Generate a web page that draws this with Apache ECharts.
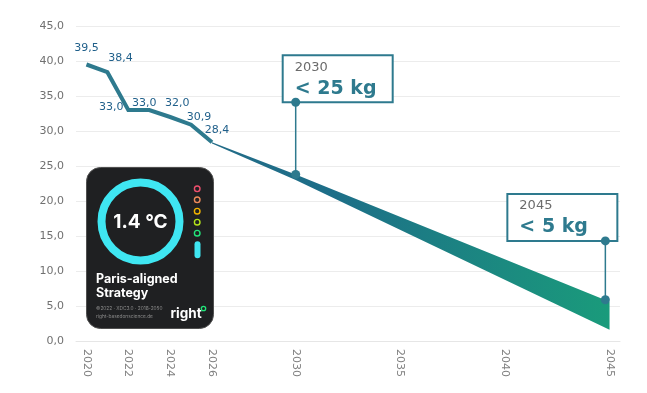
<!DOCTYPE html>
<html><head><meta charset="utf-8">
<script src="https://cdn.jsdelivr.net/npm/echarts@6/dist/echarts.min.js"></script>
<style>html,body{margin:0;padding:0;background:#fff}#c{width:647px;height:393px}</style>
</head><body><div id="c"></div>
<script>
// ---- data ----
var histYears = [2020, 2021, 2022, 2023, 2024, 2025, 2026];
var histValues = [39.5, 38.4, 33.0, 33.0, 32.0, 30.9, 28.4];
var bandYears = [2026, 2030, 2045];
var bandUpper = [28.4, 23.8, 5.6];
var bandLower = [28.2, 23.0, 1.6];
var calloutYears = [2030, 2044.8];
var calloutLow = [23.8, 5.9];
var calloutHigh = [34.1, 14.3];
var calloutYearText = ['2030', '2045'];
var calloutValueText = ['< 25 kg', '< 5 kg'];
var xTickLabels = [2020, 2022, 2024, 2026, 2030, 2035, 2040, 2045];

// ---- styles (kept separate) ----
var labelOffsets = [[0, -4], [13, -1.5], [-17, 9.5], [-5, 5.5], [7, -1.5], [8, 4.5], [5, 0.5]];
var calloutSide = ['right', 'left'];

var chart = echarts.init(document.getElementById('c'), null, {renderer: 'canvas'});

var histData = histYears.map(function (y, i) { return [y, histValues[i]]; });
var bandData = bandYears.map(function (y, i) { return [y, bandLower[i], bandUpper[i]]; });
var calloutData = calloutYears.map(function (y, i) { return [y, calloutLow[i], calloutHigh[i]]; });

var TEAL = '#2e7a8e';
var BF = 'Inter, "DejaVu Sans", sans-serif';

chart.setOption({
  animation: false,
  grid: {left: 76, right: 27, top: 26, bottom: 52},
  xAxis: {
    type: 'value', min: 2019.5, max: 2045.5,
    splitLine: {show: false},
    axisLine: {show: true, lineStyle: {color: '#e6e6e6'}},
    axisTick: {show: false},
    axisLabel: {
      customValues: xTickLabels, rotate: -90, margin: 8,
      color: '#808080', fontFamily: 'DejaVu Sans', fontSize: 11,
      formatter: function (v) { return String(v); }
    }
  },
  yAxis: {
    type: 'value', min: 0, max: 45, interval: 5,
    axisLine: {show: false}, axisTick: {show: false},
    splitLine: {lineStyle: {color: '#ececec'}},
    axisLabel: {
      margin: 12, color: '#707070', fontFamily: 'DejaVu Sans', fontSize: 11,
      formatter: function (v) { return v.toFixed(1).replace('.', ','); }
    }
  },
  series: [
    {
      type: 'custom', data: bandData, z: 2, silent: true,
      encode: {x: 0, y: [1, 2]},
      renderItem: function (params, api) {
        if (params.dataIndex !== 0) return null;
        var up = [], lo = [];
        for (var i = 0; i < bandData.length; i++) {
          up.push(api.coord([bandData[i][0], bandData[i][2]]));
          lo.push(api.coord([bandData[i][0], bandData[i][1]]));
        }
        var pts = up.concat(lo.reverse());
        var x0 = up[0][0], x1 = up[up.length - 1][0];
        return {
          type: 'polygon',
          shape: {points: pts},
          style: {
            fill: new echarts.graphic.LinearGradient(x0, 0, x1, 0, [
              {offset: 0, color: '#236c88'},
              {offset: 0.3, color: '#1d6e88'},
              {offset: 1, color: '#1a9b7b'}
            ], true)
          }
        };
      }
    },
    {
      type: 'line', data: histData, symbol: 'circle', symbolSize: 2, showSymbol: true, z: 3,
      itemStyle: {color: 'rgba(0,0,0,0)', borderWidth: 0},
      lineStyle: {color: TEAL, width: 4, join: 'miter', cap: 'butt'},
      label: {
        show: true, position: 'top', distance: 6,
        color: '#1f5f8a', fontFamily: 'DejaVu Sans', fontSize: 11,
        formatter: function (p) { return p.value[1].toFixed(1).replace('.', ','); }
      },
      labelLayout: function (p) {
        var o = labelOffsets[p.dataIndex] || [0, 0];
        return {dx: o[0], dy: o[1], hideOverlap: false};
      }
    },
    {
      type: 'custom', data: calloutData, z: 10,
      encode: {x: 0, y: [1, 2]},
      renderItem: function (params, api) {
        var i = params.dataIndex;
        var pLow = api.coord([api.value(0), api.value(1)]);
        var pHigh = api.coord([api.value(0), api.value(2)]);
        var w = 110, h = 47;
        var rx = calloutSide[i] === 'right' ? pHigh[0] - 13 : pHigh[0] - 98;
        var ry = pHigh[1] - h;
        return {
          type: 'group',
          children: [
            {type: 'line', shape: {x1: pHigh[0], y1: pHigh[1], x2: pLow[0], y2: pLow[1]},
             style: {stroke: TEAL, lineWidth: 1.5}},
            {type: 'rect', shape: {x: rx, y: ry, width: w, height: h},
             style: {fill: '#fff', stroke: TEAL, lineWidth: 2}},
            {type: 'text', x: rx + 12, y: ry + 12,
             style: {text: calloutYearText[i], fill: '#6b6b6b', font: '13px "DejaVu Sans"', verticalAlign: 'middle', align: 'left'}},
            {type: 'text', x: rx + 12, y: ry + 33.5,
             style: {text: calloutValueText[i], fill: TEAL, font: 'bold 19px "DejaVu Sans"', verticalAlign: 'middle', align: 'left'}},
            {type: 'circle', shape: {cx: pHigh[0], cy: pHigh[1], r: 4.5}, style: {fill: TEAL}},
            {type: 'circle', shape: {cx: pLow[0], cy: pLow[1], r: 4.5}, style: {fill: TEAL}}
          ]
        };
      }
    }
  ],
  graphic: [
    {
      type: 'group', left: 86, top: 167, z: 100,
      children: [
        {type: 'rect', z: 100, shape: {x: 0, y: 0, width: 127, height: 161, r: 14},
         style: {fill: '#1f2022', stroke: '#505050', lineWidth: 1}},
        {type: 'circle', z: 101, shape: {cx: 54, cy: 54, r: 39},
         style: {fill: 'none', stroke: '#3fe6f2', lineWidth: 8}},
        {type: 'text', z: 101, x: 54, y: 55,
         style: {text: '1.4 °C', fill: '#fff', font: 'bold 19px ' + BF, align: 'center', verticalAlign: 'middle'}},
        {type: 'circle', z: 101, shape: {cx: 110.7, cy: 21.3, r: 2.8}, style: {fill: 'none', stroke: '#ef4f6d', lineWidth: 1.4}},
        {type: 'circle', z: 101, shape: {cx: 110.7, cy: 32.3, r: 2.8}, style: {fill: 'none', stroke: '#ef8a5a', lineWidth: 1.4}},
        {type: 'circle', z: 101, shape: {cx: 110.7, cy: 43.7, r: 2.8}, style: {fill: 'none', stroke: '#f2b400', lineWidth: 1.4}},
        {type: 'circle', z: 101, shape: {cx: 110.7, cy: 54.7, r: 2.8}, style: {fill: 'none', stroke: '#b4e31a', lineWidth: 1.4}},
        {type: 'circle', z: 101, shape: {cx: 110.7, cy: 65.7, r: 2.8}, style: {fill: 'none', stroke: '#22e57a', lineWidth: 1.4}},
        {type: 'rect', z: 101, shape: {x: 108, y: 73.7, width: 6, height: 17, r: 3}, style: {fill: '#3fe6f2'}},
        {type: 'text', z: 101, x: 9.5, y: 112,
         style: {text: 'Paris-aligned', fill: '#fff', font: 'bold 12.5px ' + BF, verticalAlign: 'middle'}},
        {type: 'text', z: 101, x: 9.5, y: 125.5,
         style: {text: 'Strategy', fill: '#fff', font: 'bold 12.5px ' + BF, verticalAlign: 'middle'}},
        {type: 'text', z: 101, x: 9.5, y: 141.5,
         style: {text: '©2022 · XDC3.0 · 2018-2050', fill: '#8a8a8a', font: '4.8px ' + BF, verticalAlign: 'middle'}},
        {type: 'text', z: 101, x: 9.5, y: 149.5,
         style: {text: 'right-basedonscience.de', fill: '#8a8a8a', font: '4.8px ' + BF, verticalAlign: 'middle'}},
        {type: 'text', z: 101, x: 84, y: 146,
         style: {text: 'right', fill: '#fff', font: 'bold 13.5px ' + BF, verticalAlign: 'middle'}},
        {type: 'circle', z: 101, shape: {cx: 117, cy: 141, r: 2.2}, style: {fill: 'none', stroke: '#22e57a', lineWidth: 1.3}}
      ]
    }
  ]
});
</script>
</body></html>
